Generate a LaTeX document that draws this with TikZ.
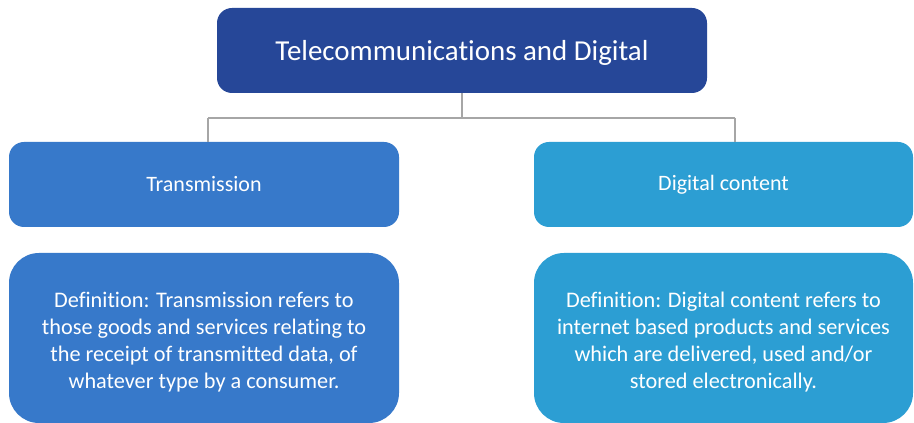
\documentclass[tikz,border=0pt]{standalone}
\usepackage{fontspec}
\setmainfont{Carlito}[Ligatures={NoCommon}]
\definecolor{topblue}{RGB}{38,71,152}
\definecolor{leftblue}{RGB}{55,121,202}
\definecolor{rightblue}{RGB}{44,158,211}
\definecolor{linegray}{RGB}{166,166,166}
\begin{document}
\begin{tikzpicture}[x=0.75pt,y=-0.75pt,
  box/.style={draw=none, text=white, inner sep=0pt, align=center},
  headbox/.style={box, minimum width=379*0.75pt, minimum height=85*0.75pt, rounded corners=15*0.75pt, font=\fontsize{16.5}{20}\selectfont},
  defbox/.style={box, minimum width=379*0.75pt, minimum height=170*0.75pt, rounded corners=30*0.75pt},
  deftext/.style={box, font=\fontsize{16.7}{20.3}\selectfont},
  conn/.style={draw=linegray, line width=1.5*0.75pt}]
\useasboundingbox (0,0) rectangle (914,423);
\fill[white] (0,0) rectangle (914,423);
% nodes
\node[box, fill=topblue, minimum width=490*0.75pt, minimum height=85*0.75pt, rounded corners=15*0.75pt] (top) at (462,50.5) {};
\node[text=white, inner sep=0pt, font=\fontsize{21.7}{25}\selectfont] (toptext) at (462,52.5) {Telecommunications and Digital};
\node[headbox, fill=leftblue, minimum width=390*0.75pt] (tl) at (204,184.5) {Transmission};
\node[headbox, fill=rightblue] (tr) at (723.5,184.5) {Digital content};
\node[defbox, fill=leftblue, minimum width=390*0.75pt] (dl) at (204,338) {};
\node[deftext] (dltext) at (204,342) {Definition: Transmission refers to\\those goods and services relating to\\the receipt of transmitted data, of\\whatever type by a consumer.};
\node[defbox, fill=rightblue] (dr) at (723.5,338) {};
\node[deftext] (drtext) at (723.5,342) {Definition: Digital content refers to\\internet based products and services\\which are delivered, used and/or\\stored electronically.};
% connectors
\coordinate (jl) at (208,118);
\coordinate (jr) at (735,118);
\draw[conn] (top.south) -- (top.south |- jl);
\draw[conn] (jl) -- (jr);
\draw[conn] (jl) -- (jl |- tl.north);
\draw[conn] (jr) -- (jr |- tr.north);
\end{tikzpicture}
\end{document}
